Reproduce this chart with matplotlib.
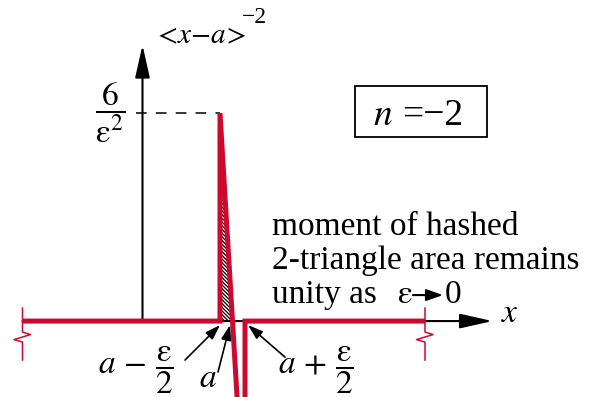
import numpy as np
import matplotlib
matplotlib.use('Agg')
import matplotlib.pyplot as plt
from matplotlib.patches import Polygon, Rectangle

plt.rcParams['mathtext.fontset'] = 'stix'
plt.rcParams['font.family'] = 'Liberation Serif'
plt.rcParams['hatch.linewidth'] = 0.9

# schematic values (x in units of eps, a at 0)
a = 0.0
eps = 1.0
peak = 6 / eps**2
x_left, x_right = -8.4, 7.7      # where the red function is broken off
x_arrow = 10.4                   # tip of x axis
y_axis_x = -3.6                  # position of the vertical axis
y_arrow = 7.96                   # tip of vertical axis

step_x = [x_left, a - eps/2, a - eps/2, a + eps/2, a + eps/2, x_right]
step_y = [0, 0, peak, -peak, 0, 0]

hatch_x = [a - eps/2, a - eps/2, a]
hatch_y = [0, peak, 0]

# break (zigzag) marks, relative shape
brk_dx = [0, 0, 0.32, -0.34, 0, 0]
brk_dy = [0.375, -0.317, -0.39, -0.534, -0.606, -1.125]

note_lines = ['moment of hashed', '2-triangle area remains', 'unity as']

red = '#cc0a2f'
fs = 24
EPS = r'\mathrm{ε}'

fig = plt.figure(figsize=(5.96, 3.97), dpi=100)
ax = fig.add_axes([0, 0, 1, 1])
ax.set_xlim(-9.3, 14.54)
ax.set_ylim(-2.19, 9.26)
ax.axis('off')

# axes arrows
ax.annotate('', xy=(x_arrow, 0), xytext=(x_left, 0),
            arrowprops=dict(arrowstyle='-|>,head_length=2.0,head_width=0.45', color='k',
                            lw=1.5, shrinkA=0, shrinkB=0, mutation_scale=10), zorder=1)
ax.annotate('', xy=(y_axis_x, y_arrow), xytext=(y_axis_x, 0),
            arrowprops=dict(arrowstyle='-|>,head_length=2.0,head_width=0.45', color='k',
                            lw=1.5, shrinkA=0, shrinkB=0, mutation_scale=10), zorder=1)

# dashed level line
ax.plot([-3.86, a - eps/2], [peak, peak], color='k', lw=1.1, linestyle=(0, (7, 6)), zorder=1)

# hashed triangle
ax.add_patch(Polygon(list(zip(hatch_x, hatch_y)), closed=True, fill=False,
                     hatch='\\' * 9, lw=0, edgecolor='k', zorder=2))

# the function
ax.plot(step_x, step_y, color=red, lw=3.6, solid_joinstyle='miter',
        solid_capstyle='butt', zorder=3)

for xb in [x_left, x_right]:
    ax.plot(xb + np.array(brk_dx), brk_dy, color=red, lw=1.1, zorder=3)

# labels
ax.text(-3.2, 8.02, r'$<\!x{-}a\!>$', fontsize=21, ha='left', va='baseline')
ax.text(0.38, 8.6, '−2', fontsize=17, ha='left', va='baseline')
ax.text(-4.9, 6.0, r'$\dfrac{6}{%s^2}$' % EPS, fontsize=24, ha='center', va='center')
ax.text(10.75, -0.03, r'$x$', fontsize=fs, ha='left', va='baseline')

ax.add_patch(Rectangle((4.9, 5.31), 5.28, 1.47, fill=False, ec='k', lw=1.3))
ax.text(5.62, 5.65, r'$n$', fontsize=27, ha='left', va='baseline')
ax.text(6.8, 5.65, '=−2', fontsize=27, ha='left', va='baseline')

for i, line in enumerate(note_lines):
    ax.text(1.58, 2.48 - i * 0.98, line, fontsize=fs, ha='left', va='baseline')
ax.text(6.58, 0.52, r'$%s$' % EPS, fontsize=fs, ha='left', va='baseline')
ax.annotate('', xy=(8.42, 0.75), xytext=(7.22, 0.75),
            arrowprops=dict(arrowstyle='-|>,head_length=1.0,head_width=0.35', color='k',
                            lw=1.5, shrinkA=0, shrinkB=0, mutation_scale=10))
ax.text(8.5, 0.52, '0', fontsize=fs, ha='left', va='baseline')

ax.text(-3.86, -1.41, r'$a\,-\,\dfrac{%s}{2}$' % EPS, fontsize=fs, ha='center', va='center')
ax.text(-0.98, -2.1, r'$a$', fontsize=fs, ha='center', va='bottom')
ax.text(3.34, -1.41, r'$a\,+\,\dfrac{%s}{2}$' % EPS, fontsize=fs, ha='center', va='center')

arr = dict(arrowstyle='-|>,head_length=0.9,head_width=0.3', color='k', lw=1.2,
           shrinkA=0, shrinkB=0, mutation_scale=10)
ax.annotate('', xy=(a - eps/2, -0.115), xytext=(-1.9, -1.125), arrowprops=arr)
ax.annotate('', xy=(-0.1, -0.115), xytext=(-0.58, -1.47), arrowprops=arr)
ax.annotate('', xy=(a + eps/2 + 0.12, -0.115), xytext=(2.1, -1.04), arrowprops=arr)

fig.savefig('out.png', dpi=100)
